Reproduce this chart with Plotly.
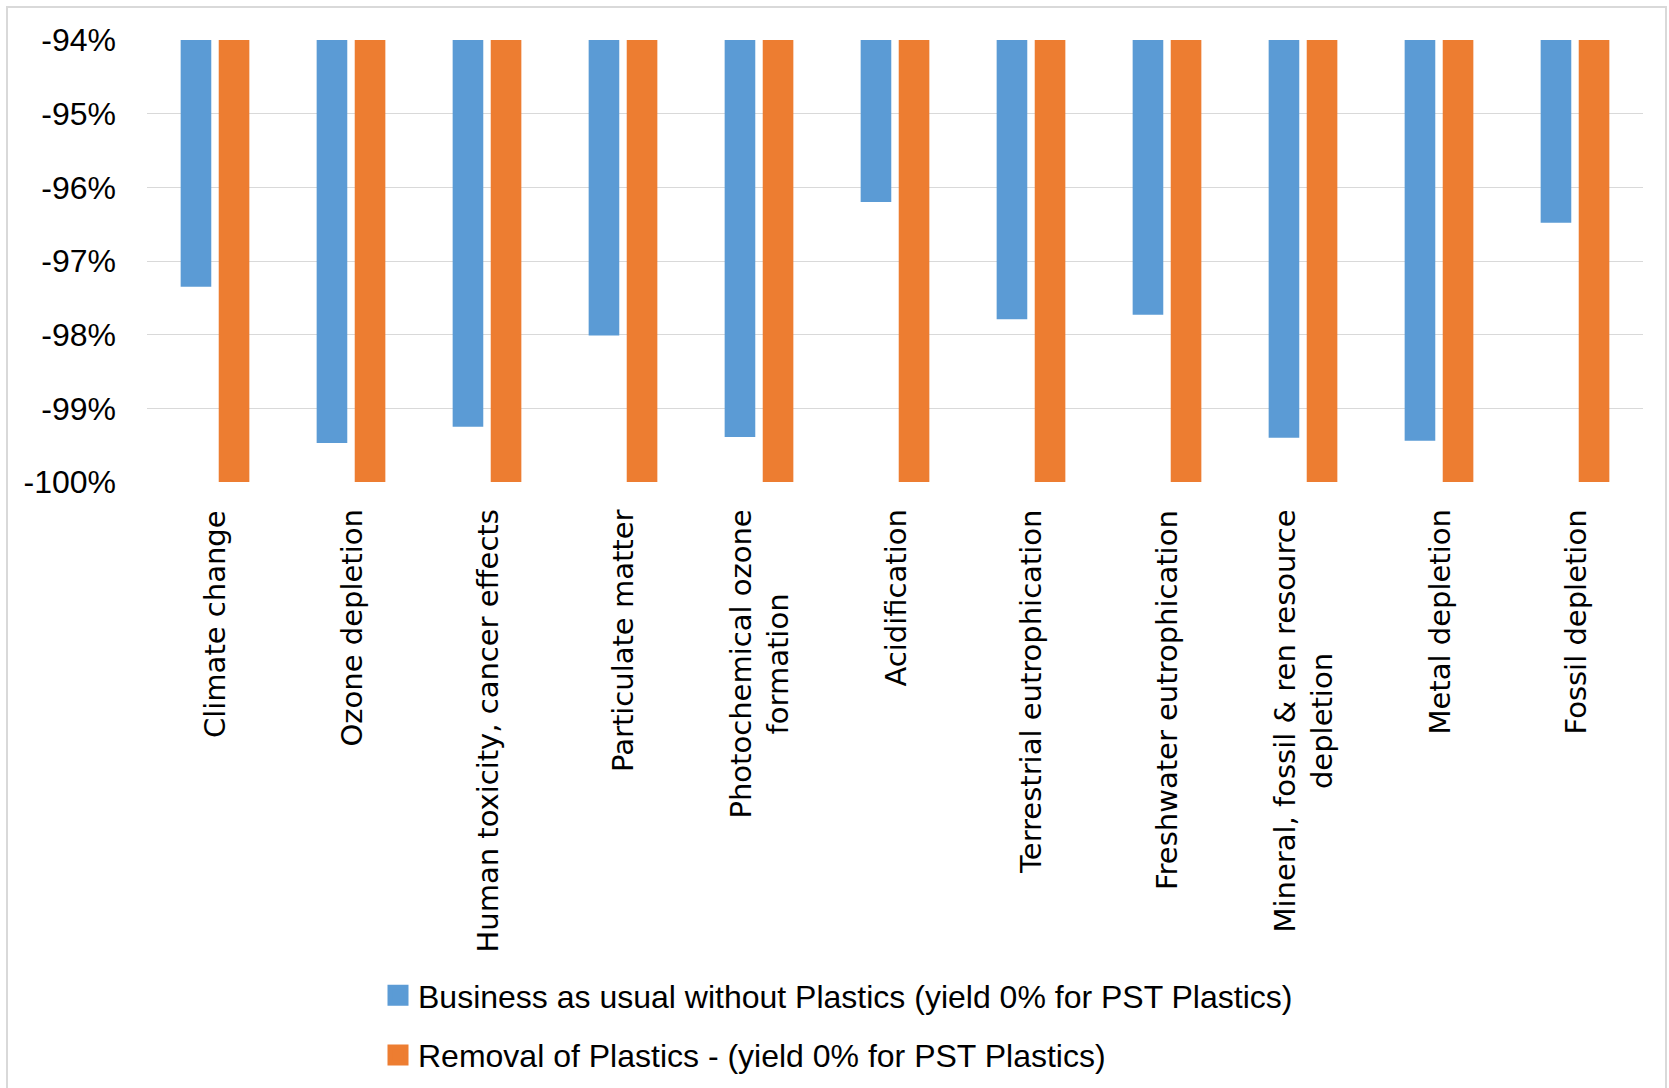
import plotly.graph_objects as go

categories = [
    "Climate change",
    "Ozone depletion",
    "Human toxicity, cancer effects",
    "Particulate matter",
    "Photochemical ozone<br>formation",
    "Acidification",
    "Terrestrial eutrophication",
    "Freshwater eutrophication",
    "Mineral, fossil & ren resource<br>depletion",
    "Metal depletion",
    "Fossil depletion",
]
bau_values = [-97.35, -99.47, -99.25, -98.01, -99.39, -96.20, -97.79, -97.73, -99.40, -99.44, -96.48]
removal_values = [-100.0] * 11
series_names = [
    "Business as usual without Plastics (yield 0% for PST Plastics)",
    "Removal of Plastics - (yield 0% for PST Plastics)",
]
series_colors = ["#5B9BD5", "#ED7D31"]
y_ticks = [-100, -99, -98, -97, -96, -95, -94]

W, H = 1669, 1088
L, R, T, B = 147, 1669 - 1643, 40, 1088 - 482
pw, ph = W - L - R, H - T - B

fig = go.Figure()
for vals, name, col, grp in [(bau_values, series_names[0], series_colors[0], "a"),
                             (removal_values, series_names[1], series_colors[1], "b")]:
    fig.add_trace(go.Bar(x=categories, y=vals, name=name,
                         marker=dict(color=col, line=dict(width=0)),
                         legendgroup=grp, showlegend=False))
# legend-only proxies (larger square swatches)
for name, col, grp in [(series_names[0], series_colors[0], "a"),
                       (series_names[1], series_colors[1], "b")]:
    fig.add_trace(go.Scatter(x=[None], y=[None], mode="markers", name=name,
                             marker=dict(symbol="square", size=16, color=col,
                                         line=dict(width=5, color=col)),
                             legendgroup=grp, showlegend=True, hoverinfo="skip"))

annotations = []
for c in categories:
    annotations.append(dict(
        x=c, xref="x", y=0, yref="paper", yanchor="top", xanchor="center",
        yshift=-26, text=c, textangle=-90, showarrow=False, align="center",
        font=dict(family="DejaVu Sans", size=29, color="#000000"),
    ))

def px2paper_x(px):
    return (px - L) / pw

def px2paper_y(py):
    return (H - B - py) / ph

fig.update_layout(
    width=W, height=H,
    margin=dict(l=L, r=R, t=T, b=B, autoexpand=False),
    paper_bgcolor="white", plot_bgcolor="white",
    barmode="group", bargap=0.44, bargroupgap=0.196,
    font=dict(family="Liberation Sans", size=32, color="#000000"),
    xaxis=dict(showticklabels=False, showgrid=False, ticks="", showline=False,
               zeroline=False),
    yaxis=dict(range=[-100, -94], tickvals=y_ticks,
               ticktext=[f"{v}%" for v in y_ticks],
               showgrid=True, gridcolor="#d9d9d9", gridwidth=1,
               zeroline=False, showline=False, ticks="",
               ticklabelstandoff=30,
               tickfont=dict(family="Liberation Sans", size=32, color="#000000")),
    showlegend=True,
    legend=dict(xref="container", yref="container", x=378 / W, y=1 - 968 / H,
                xanchor="left", yanchor="top", orientation="v",
                tracegroupgap=15, bgcolor="rgba(0,0,0,0)", itemsizing="trace",
                font=dict(family="Liberation Sans", size=32, color="#000000")),
    annotations=annotations,
    shapes=[dict(type="rect", xref="paper", yref="paper",
                 x0=px2paper_x(7), x1=px2paper_x(1666),
                 y0=px2paper_y(1100), y1=px2paper_y(7),
                 line=dict(color="#d9d9d9", width=2), fillcolor="rgba(0,0,0,0)",
                 layer="below")],
)

fig.write_html("out.html")
